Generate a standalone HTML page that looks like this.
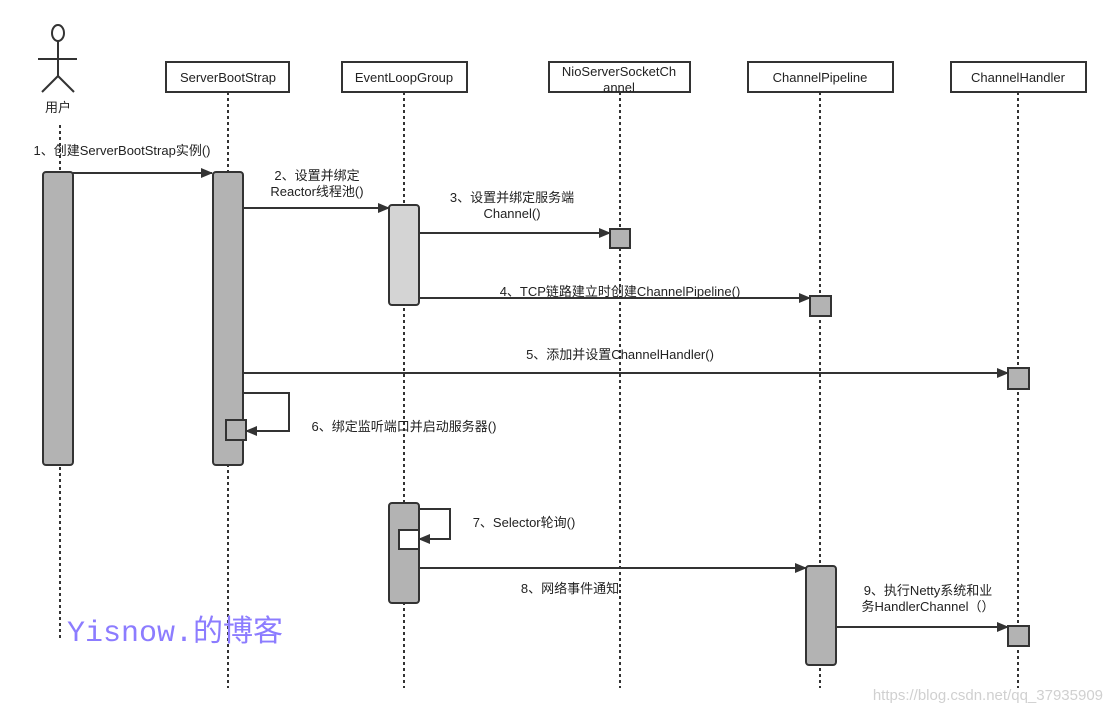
<!DOCTYPE html>
<html><head><meta charset="utf-8"><style>
html,body{margin:0;padding:0;background:#fff;width:1111px;height:713px;overflow:hidden}
svg{display:block}
text{font-family:"Liberation Sans","Noto Sans CJK SC",sans-serif;font-size:13px;fill:#222}
</style></head><body>
<svg width="1111" height="713" viewBox="0 0 1111 713" xmlns="http://www.w3.org/2000/svg">
<defs><marker id="a" markerWidth="12" markerHeight="10" refX="11" refY="5" orient="auto" markerUnits="userSpaceOnUse"><path d="M0,0 L12,5 L0,10 z" fill="#333"/></marker></defs>
<g stroke="#333" stroke-width="2" stroke-dasharray="3,3" fill="none">
<line x1="60" y1="125" x2="60" y2="640"/>
<line x1="228" y1="92" x2="228" y2="688"/>
<line x1="404" y1="92" x2="404" y2="688"/>
<line x1="620" y1="92" x2="620" y2="688"/>
<line x1="820" y1="92" x2="820" y2="688"/>
<line x1="1018" y1="92" x2="1018" y2="688"/>
</g>
<g stroke="#333" stroke-width="2" fill="none">
<ellipse cx="58" cy="33" rx="6" ry="8"/>
<line x1="58" y1="41" x2="58" y2="76"/>
<line x1="38" y1="59" x2="77" y2="59"/>
<line x1="58" y1="76" x2="42" y2="92"/>
<line x1="58" y1="76" x2="74" y2="92"/>
</g>
<text x="58" y="112" text-anchor="middle">用户</text>
<g fill="#fff" stroke="#333" stroke-width="2">
<rect x="166" y="62" width="123" height="30"/>
<rect x="342" y="62" width="125" height="30"/>
<rect x="549" y="62" width="141" height="30"/>
<rect x="748" y="62" width="145" height="30"/>
<rect x="951" y="62" width="135" height="30"/>
</g>
<text x="228" y="82" text-anchor="middle">ServerBootStrap</text>
<text x="404" y="82" text-anchor="middle">EventLoopGroup</text>
<text x="619" y="76" text-anchor="middle">NioServerSocketCh</text>
<text x="619" y="92" text-anchor="middle">annel</text>
<text x="820" y="82" text-anchor="middle">ChannelPipeline</text>
<text x="1018" y="82" text-anchor="middle">ChannelHandler</text>
<g stroke="#333" stroke-width="2" fill="#b3b3b3">
<rect x="43" y="172" width="30" height="293" rx="3"/>
<rect x="213" y="172" width="30" height="293" rx="3"/>
<rect x="389" y="205" width="30" height="100" rx="3" fill="#d4d4d4"/>
<rect x="610" y="229" width="20" height="19"/>
<rect x="810" y="296" width="21" height="20"/>
<rect x="1008" y="368" width="21" height="21"/>
<rect x="226" y="420" width="20" height="20"/>
<rect x="389" y="503" width="30" height="100" rx="3"/>
<rect x="399" y="530" width="20" height="19" fill="#fff"/>
<rect x="806" y="566" width="30" height="99" rx="3"/>
<rect x="1008" y="626" width="21" height="20"/>
</g>
<g stroke="#333" stroke-width="2" fill="none" marker-end="url(#a)">
<line x1="73" y1="173" x2="212" y2="173"/>
<line x1="243" y1="208" x2="389" y2="208"/>
<line x1="420" y1="233" x2="610" y2="233"/>
<line x1="420" y1="298" x2="810" y2="298"/>
<line x1="243" y1="373" x2="1008" y2="373"/>
<polyline points="243,393 289,393 289,431 246,431"/>
<polyline points="420,509 450,509 450,539 419,539"/>
<line x1="420" y1="568" x2="806" y2="568"/>
<line x1="837" y1="627" x2="1008" y2="627"/>
</g>
<text x="122" y="155" text-anchor="middle">1、创建ServerBootStrap实例()</text>
<text x="317" y="180" text-anchor="middle">2、设置并绑定</text>
<text x="317" y="196" text-anchor="middle">Reactor线程池()</text>
<text x="512" y="202" text-anchor="middle">3、设置并绑定服务端</text>
<text x="512" y="218" text-anchor="middle">Channel()</text>
<text x="620" y="296" text-anchor="middle">4、TCP链路建立时创建ChannelPipeline()</text>
<text x="620" y="359" text-anchor="middle">5、添加并设置ChannelHandler()</text>
<text x="404" y="431" text-anchor="middle">6、绑定监听端口并启动服务器()</text>
<text x="524" y="527" text-anchor="middle">7、Selector轮询()</text>
<text x="570" y="593" text-anchor="middle">8、网络事件通知</text>
<text x="928" y="595" text-anchor="middle">9、执行Netty系统和业</text>
<text x="928" y="611" text-anchor="middle">务HandlerChannel（）</text>
<text x="67" y="641" style="font-family:'Liberation Mono','Noto Sans CJK SC',monospace;font-size:30px;fill:#8c7cff">Yisnow.的博客</text>
<text x="1103" y="700" text-anchor="end" style="font-size:15px;fill:#d0d0d0">https://blog.csdn.net/qq_37935909</text>
</svg>
</body></html>
